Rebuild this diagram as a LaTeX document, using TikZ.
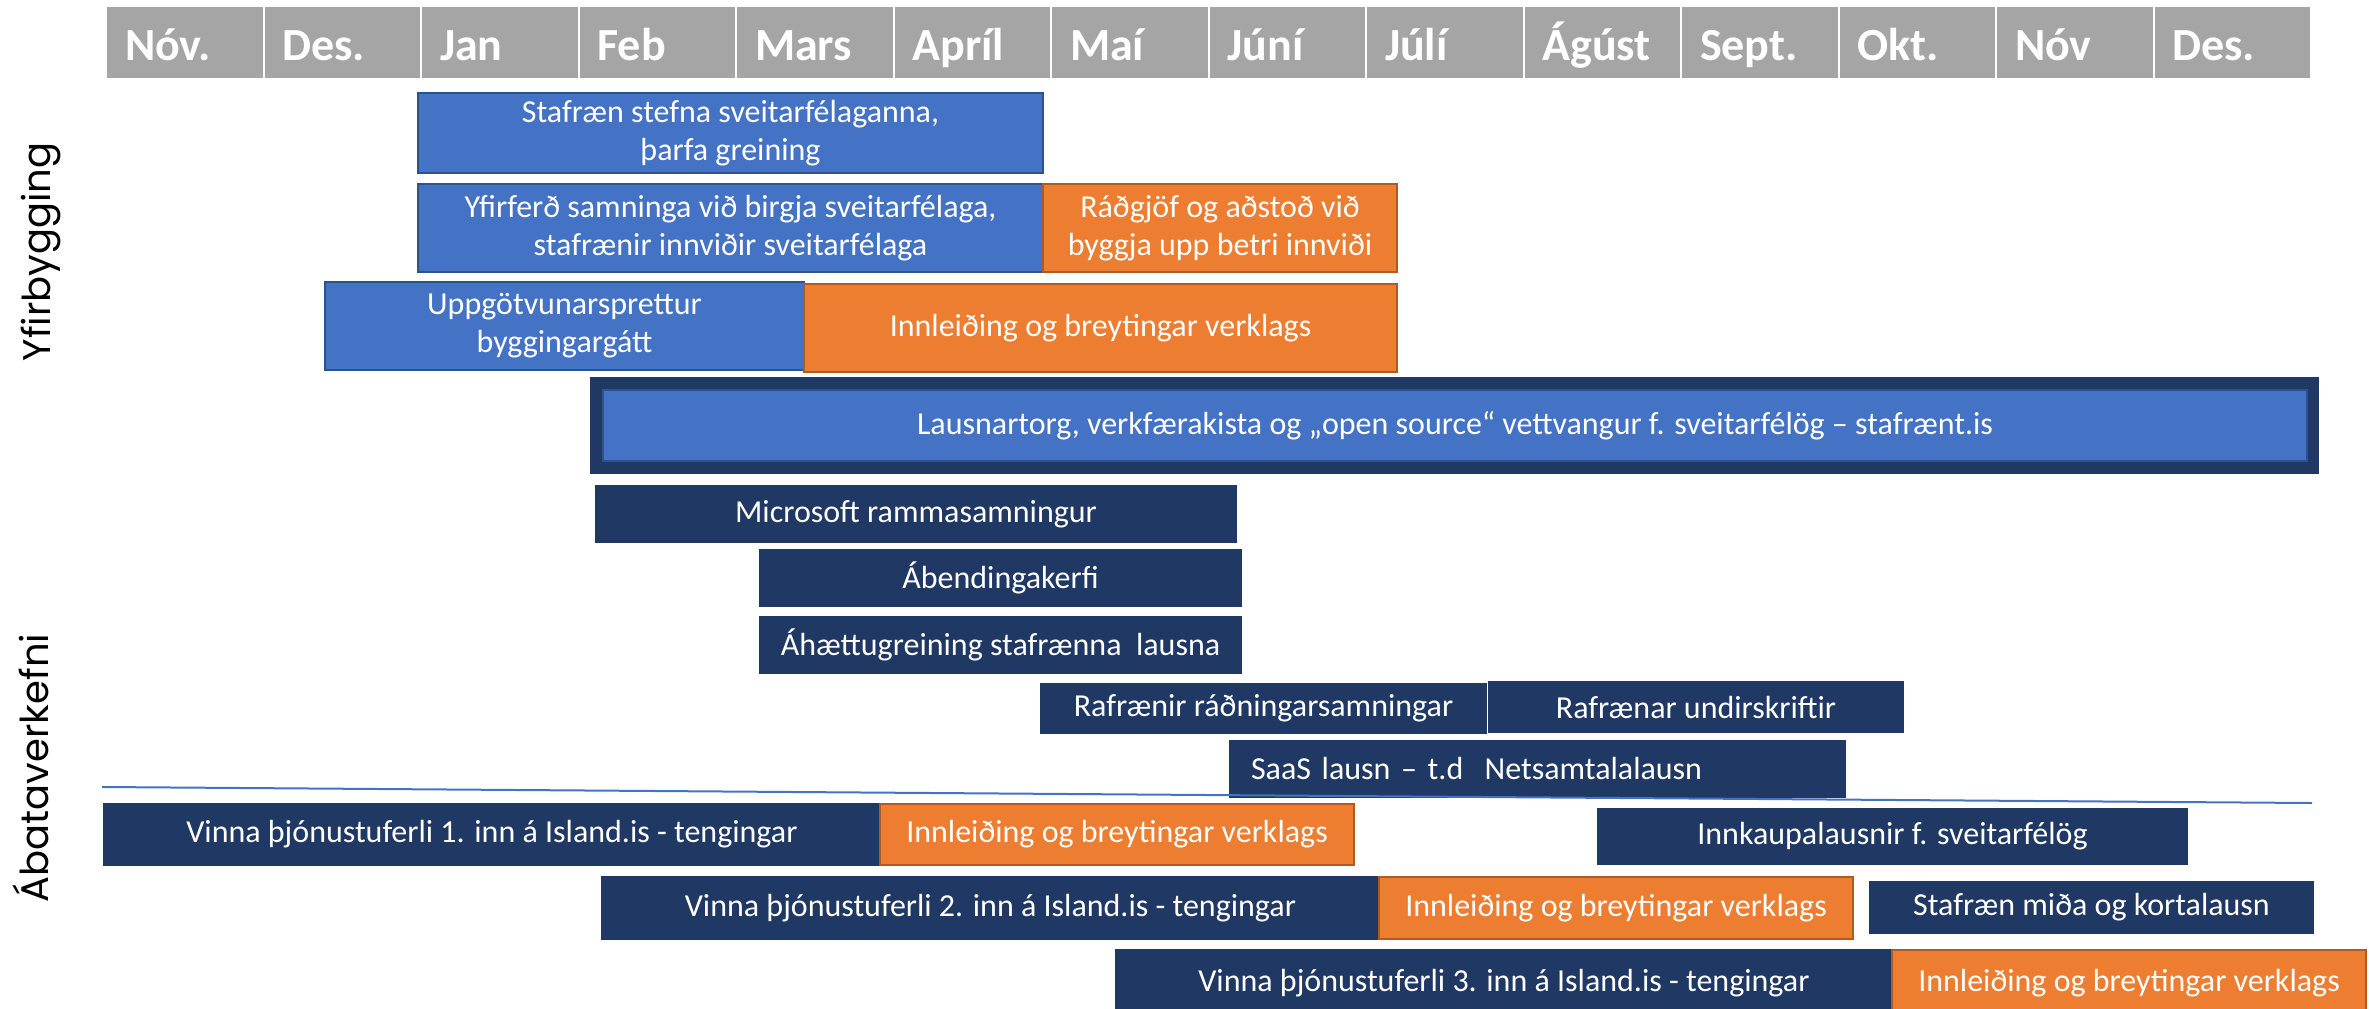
\documentclass[tikz,border=0pt]{standalone}
\usepackage{fontspec}
\setmainfont{Carlito}
\newfontfamily\sidefont{Poppins}
\begin{document}
\begin{tikzpicture}[x=1pt,y=-1pt,line cap=rect,
  hdr/.style={anchor=north west, fill=custcol_a5_a5_a5, draw=white, line width=2pt, text=white, inner xsep=19pt, inner ysep=0pt, text width=119.5pt, text height=40pt, text depth=5pt, minimum height=73pt, align=left, font=\fontsize{46pt}{46pt}\bfseries\selectfont},
  task/.style={anchor=north west, inner sep=0pt, text=white, align=center, line width=2pt, font=\fontsize{32pt}{38pt}\selectfont},
  bluebox/.style={task, fill=custcol_44_72_c4, draw=custcol_2f_52_8f},
  orangebox/.style={task, fill=custcol_ed_7d_31, draw=custcol_ae_5a_21},
  navybox/.style={task, fill=custcol_20_38_64, draw=custcol_20_38_64},
  sidelabel/.style={rotate=90, anchor=base, inner sep=0pt, font=\sidefont\fontsize{38.5pt}{38.5pt}\selectfont},
  sepline/.style={line width=2pt, draw=custcol_44_72_c4}]
\definecolor{custcol_a5_a5_a5}{RGB}{165, 165, 165}
\definecolor{custcol_44_72_c4}{RGB}{68, 114, 196}
\definecolor{custcol_2f_52_8f}{RGB}{47, 82, 143}
\definecolor{custcol_ed_7d_31}{RGB}{237, 125, 49}
\definecolor{custcol_ae_5a_21}{RGB}{174, 90, 33}
\definecolor{custcol_20_38_64}{RGB}{32, 56, 100}
\useasboundingbox (0,0) rectangle (2369,1009);
% month header
\node[hdr] (mNov) at (105.0,5.0) {Nóv.};
\node[hdr] (mDes) at (262.5,5.0) {Des.};
\node[hdr] (mJan) at (420.0,5.0) {Jan};
\node[hdr] (mFeb) at (577.5,5.0) {Feb};
\node[hdr] (mMar) at (735.0,5.0) {Mars};
\node[hdr] (mApr) at (892.5,5.0) {Apríl};
\node[hdr] (mMai) at (1050.0,5.0) {Maí};
\node[hdr] (mJun) at (1207.5,5.0) {Júní};
\node[hdr] (mJul) at (1365.0,5.0) {Júlí};
\node[hdr] (mAgu) at (1522.5,5.0) {Ágúst};
\node[hdr] (mSep) at (1680.0,5.0) {Sept.};
\node[hdr] (mOkt) at (1837.5,5.0) {Okt.};
\node[hdr] (mNov2) at (1995.0,5.0) {Nóv};
\node[hdr] (mDes2) at (2152.5,5.0) {Des.};
% side labels
\node[sidelabel] (yfir) at (50.0,252.0) {Yfirbygging};
\node[sidelabel] (abati) at (48.0,768.0) {Ábataverkefni};
% yfirbygging
\node[bluebox, minimum width=625, minimum height=80] (stefna) at (417.0,92.0) {Stafræn stefna sveitarfélaganna,\\ þarfa greining};
\node[bluebox, minimum width=625, minimum height=88] (yfirferd) at (417.0,183.0) {Yfirferð samninga við birgja sveitarfélaga,\\ stafrænir innviðir sveitarfélaga};
\node[orangebox, minimum width=354, minimum height=88] (radgjof) at (1042.0,183.0) {Ráðgjöf og aðstoð við\\ byggja upp betri innviði};
\node[bluebox, minimum width=479, minimum height=88] (uppgotvun) at (324.0,281.0) {Uppgötvunarsprettur\\ byggingargátt};
\node[orangebox, minimum width=593, minimum height=88] (innleidA) at (803.0,283.0) {Innleiðing og breytingar verklags};
\node[navybox, minimum width=1727, minimum height=95] (lausnframe) at (590.0,377.0) {};
\node[bluebox, minimum width=1704, minimum height=71] (lausn) at (602.0,389.0) {Lausnartorg, verkfærakista og „open source“ vettvangur f. sveitarfélög – stafrænt.is};
% abataverkefni
\node[navybox, minimum width=640, minimum height=56] (microsoft) at (595.0,485.0) {Microsoft rammasamningur};
\node[navybox, minimum width=481, minimum height=56] (abending) at (759.0,549.0) {Ábendingakerfi};
\node[navybox, minimum width=481, minimum height=56] (ahaettu) at (759.0,616.0) {Áhættugreining stafrænna\ \ lausna};
\node[navybox, minimum width=445, minimum height=49] (radning) at (1040.0,683.0) {Rafrænir ráðningarsamningar};
\node[navybox, minimum width=414, minimum height=50] (undirskr) at (1488.0,681.0) {Rafrænar undirskriftir};
\node[navybox, minimum height=56, inner xsep=21pt, text width=573pt, align=left] (saas) at (1229.0,740.0) {SaaS lausn – t.d\ \ Netsamtalalausn};
\coordinate (sepL) at (103.0,787.0);
\coordinate (sepR) at (2311.0,803.0);
\draw[sepline] (sepL) -- (sepR);
\node[navybox, minimum width=776, minimum height=61] (vinnaA) at (103.0,803.0) {Vinna þjónustuferli 1. inn á Island.is - tengingar};
\node[orangebox, minimum width=474, minimum height=61] (innleidB) at (879.0,803.0) {Innleiðing og breytingar verklags};
\node[navybox, minimum width=589, minimum height=55] (innkaup) at (1597.0,808.0) {Innkaupalausnir f. sveitarfélög};
\node[navybox, minimum width=777, minimum height=62] (vinnaB) at (601.0,876.0) {Vinna þjónustuferli 2. inn á Island.is - tengingar};
\node[orangebox, minimum width=474, minimum height=62] (innleidC) at (1378.0,876.0) {Innleiðing og breytingar verklags};
\node[navybox, minimum width=443, minimum height=51] (midi) at (1869.0,881.0) {Stafræn miða og kortalausn};
\node[navybox, minimum width=776, minimum height=66] (vinnaC) at (1115.0,949.0) {Vinna þjónustuferli 3. inn á Island.is - tengingar};
\node[orangebox, minimum width=474, minimum height=66] (innleidD) at (1891.0,949.0) {Innleiðing og breytingar verklags};
\end{tikzpicture}
\end{document}
